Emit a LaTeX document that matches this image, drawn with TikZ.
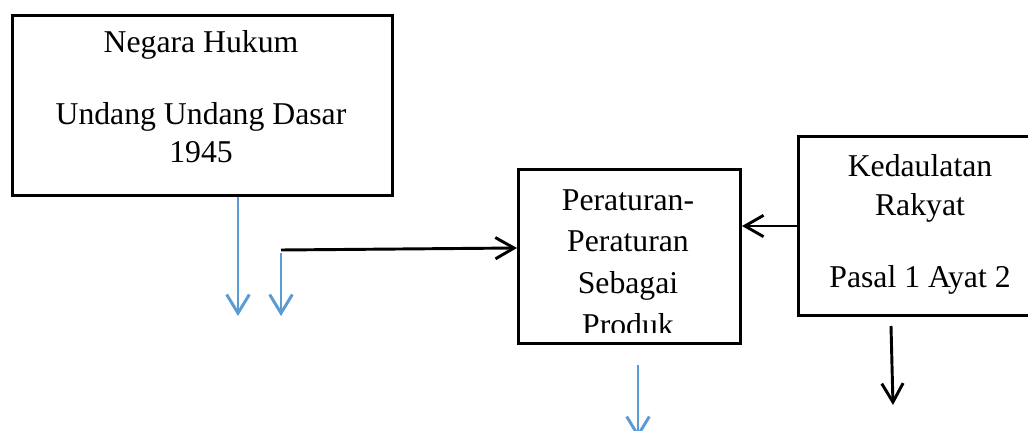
\documentclass[tikz,border=0pt]{standalone}
\usepackage{fontspec}
\setmainfont{Liberation Serif}
\usetikzlibrary{arrows.meta}
\definecolor{arrowblue}{RGB}{91,155,213}
\tikzset{
  box/.style={draw, line width=2.2pt, inner sep=0pt, fill=none},
  txt/.style={anchor=base, inner sep=0pt, font=\fontsize{23.8pt}{28pt}\selectfont},
  blu/.style={draw=arrowblue, line width=2.2pt, -{Straight Barb[length=14pt,width=17pt,line width=2.2pt]}},
  blk/.style={draw=black, line width=2.2pt, -{Straight Barb[length=14pt,width=16pt,line width=2.2pt]}},
}
\begin{document}
\begin{tikzpicture}[x=0.75pt,y=-0.75pt]
\clip (0,0) rectangle (1028,431);
\fill[white] (0,0) rectangle (1028,431);
% boxes
\node[box, anchor=north west, minimum width=285pt, minimum height=135pt] (b1) at (11,14) {};
\node[box, anchor=north west, minimum width=166.5pt, minimum height=130.5pt] (b2) at (517,168) {};
\node[box, anchor=north west, minimum width=184.5pt, minimum height=134.25pt] (b3) at (797,135) {};
% texts
\node[txt] (t11) at (201,53) {Negara Hukum};
\node[txt] (t12) at (201,125) {Undang Undang Dasar};
\node[txt] (t13) at (201,163) {1945};
\node[txt] (t21) at (628,210) {Peraturan-};
\node[txt] (t22) at (628,252) {Peraturan};
\node[txt] (t23) at (628,293) {Sebagai};
\begin{scope}
\clip (517,168) rectangle (740,332);
\node[txt] (t24) at (628,335) {Produk};
\end{scope}
\node[txt] (t31) at (920,176) {Kedaulatan};
\node[txt] (t32) at (920,215) {Rakyat};
\node[txt] (t33) at (920,287) {Pasal 1 Ayat 2};
% coordinates
\coordinate (a1) at (238,316);
\coordinate (s2) at (281,253);
\coordinate (e2) at (281,316);
\coordinate (h1) at (281,250);
\coordinate (h2) at (517,248);
\coordinate (d1) at (891,326);
\coordinate (d2) at (893,405);
\coordinate (p1) at (638,365);
\coordinate (p2) at (638,438);
% connectors
\draw[blu] (b1.south -| a1) -- (a1);
\draw[blu] (s2) -- (e2);
\draw[blk] (h1) -- (b2.west |- h2);
\draw[blk] (b3.west |- 0,226) -- (b2.east |- 0,226);
\draw[blk] (d1) -- (d2);
\draw[blu] (p1) -- (p2);
\end{tikzpicture}
\end{document}
